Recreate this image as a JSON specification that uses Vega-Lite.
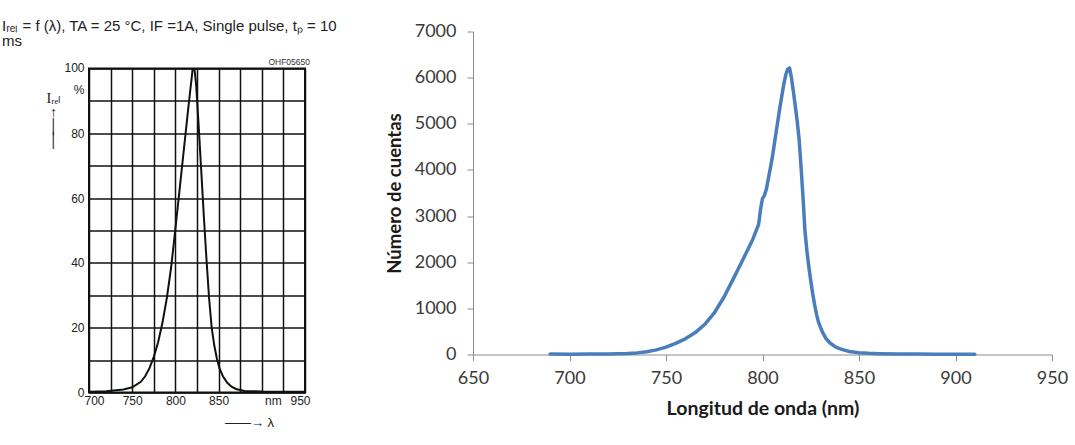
{
  "$schema": "https://vega.github.io/schema/vega-lite/v6.json",
  "background": "white",
  "padding": {"left": 2, "top": 18.5, "right": 0, "bottom": 0},
  "config": {
    "view": {"stroke": null},
    "font": "Liberation Sans",
    "concat": {"spacing": 47}
  },
  "datasets": {
    "caption": [
      {"lines": ["Iᵣₑₗ = f (λ), TA = 25 °C, IF =1A, Single pulse, tₚ = 10", "ms"]}
    ],
    "datasheet": [
      {"lambda": 700, "irel": 0.2},
      {"lambda": 720, "irel": 0.4},
      {"lambda": 740, "irel": 0.9},
      {"lambda": 750, "irel": 1.6},
      {"lambda": 760, "irel": 3.3},
      {"lambda": 765, "irel": 5},
      {"lambda": 770, "irel": 7.5},
      {"lambda": 775, "irel": 11},
      {"lambda": 780, "irel": 15.5},
      {"lambda": 785, "irel": 21.5},
      {"lambda": 790, "irel": 29},
      {"lambda": 795, "irel": 38.5},
      {"lambda": 800, "irel": 50.5},
      {"lambda": 805, "irel": 63},
      {"lambda": 810, "irel": 75.5},
      {"lambda": 815, "irel": 88},
      {"lambda": 819, "irel": 97.5},
      {"lambda": 820, "irel": 100},
      {"lambda": 822, "irel": 100},
      {"lambda": 824, "irel": 95},
      {"lambda": 827, "irel": 82},
      {"lambda": 830, "irel": 68},
      {"lambda": 833, "irel": 54},
      {"lambda": 836, "irel": 41},
      {"lambda": 839, "irel": 29},
      {"lambda": 842, "irel": 20},
      {"lambda": 845, "irel": 14.5},
      {"lambda": 848, "irel": 10.5},
      {"lambda": 851, "irel": 7.5},
      {"lambda": 855, "irel": 5},
      {"lambda": 860, "irel": 3},
      {"lambda": 865, "irel": 1.8},
      {"lambda": 870, "irel": 1.1},
      {"lambda": 880, "irel": 0.5},
      {"lambda": 900, "irel": 0.3},
      {"lambda": 950, "irel": 0.2}
    ],
    "measured": [
      {"lambda": 690, "counts": 10},
      {"lambda": 700, "counts": 8},
      {"lambda": 710, "counts": 9},
      {"lambda": 720, "counts": 12},
      {"lambda": 725, "counts": 15},
      {"lambda": 730, "counts": 22},
      {"lambda": 735, "counts": 35},
      {"lambda": 740, "counts": 60},
      {"lambda": 745, "counts": 100},
      {"lambda": 750, "counts": 160},
      {"lambda": 755, "counts": 240},
      {"lambda": 760, "counts": 340},
      {"lambda": 765, "counts": 470},
      {"lambda": 770, "counts": 650},
      {"lambda": 775, "counts": 900},
      {"lambda": 780, "counts": 1240},
      {"lambda": 785, "counts": 1650},
      {"lambda": 790, "counts": 2070},
      {"lambda": 795, "counts": 2500},
      {"lambda": 798, "counts": 2820},
      {"lambda": 799, "counts": 3150},
      {"lambda": 800, "counts": 3380},
      {"lambda": 801, "counts": 3450},
      {"lambda": 802, "counts": 3580},
      {"lambda": 803, "counts": 3800},
      {"lambda": 805, "counts": 4250},
      {"lambda": 807, "counts": 4800},
      {"lambda": 809, "counts": 5350},
      {"lambda": 811, "counts": 5850},
      {"lambda": 812, "counts": 6050},
      {"lambda": 813, "counts": 6180},
      {"lambda": 814, "counts": 6210},
      {"lambda": 815, "counts": 6000},
      {"lambda": 816, "counts": 5700},
      {"lambda": 817, "counts": 5380},
      {"lambda": 818, "counts": 5050},
      {"lambda": 819, "counts": 4650},
      {"lambda": 820, "counts": 4050},
      {"lambda": 821, "counts": 3400},
      {"lambda": 822, "counts": 2680},
      {"lambda": 823, "counts": 2250},
      {"lambda": 824, "counts": 1900},
      {"lambda": 825, "counts": 1600},
      {"lambda": 826, "counts": 1320},
      {"lambda": 827, "counts": 1080},
      {"lambda": 828, "counts": 870},
      {"lambda": 829, "counts": 700},
      {"lambda": 831, "counts": 490},
      {"lambda": 833, "counts": 340},
      {"lambda": 835, "counts": 250},
      {"lambda": 838, "counts": 160},
      {"lambda": 841, "counts": 110},
      {"lambda": 845, "counts": 65},
      {"lambda": 850, "counts": 38},
      {"lambda": 855, "counts": 25},
      {"lambda": 860, "counts": 18},
      {"lambda": 870, "counts": 12},
      {"lambda": 880, "counts": 9},
      {"lambda": 890, "counts": 7},
      {"lambda": 900, "counts": 6},
      {"lambda": 910, "counts": 5}
    ]
  },
  "hconcat": [
    {
      "spacing": 8,
      "vconcat": [
        {
          "width": 216,
          "height": 14,
          "data": {"name": "caption"},
          "mark": {"type": "text", "align": "left", "baseline": "middle", "dx": -195, "dy": -13, "fontSize": 15, "lineHeight": 15, "color": "#222", "font": "Liberation Sans"},
          "encoding": {"text": {"field": "lines", "type": "nominal"}}
        },
        {
          "width": 216,
          "height": 324,
          "title": {"text": "OHF05650", "anchor": "end", "fontSize": 8.5, "fontWeight": "normal", "offset": -5, "color": "#333", "font": "Liberation Sans"},
          "view": {"stroke": "#111", "strokeWidth": 2},
          "data": {"name": "datasheet"},
          "mark": {"type": "line", "color": "#111", "strokeWidth": 2, "clip": true},
          "encoding": {
            "x": {
              "field": "lambda", "type": "quantitative",
              "scale": {"domain": [700, 950], "nice": false, "zero": false},
              "axis": {
                "values": [700, 725, 750, 775, 800, 825, 850, 875, 900, 925, 950],
                "grid": true, "gridColor": "#111", "gridWidth": 1.5, "gridOpacity": 1,
                "domain": false, "ticks": false,
                "labelExpr": "datum.value == 900 ? 'nm' : (datum.value % 50 == 0 ? datum.label : '')",
                "labelFlush": true, "labelFlushOffset": 5,
                "labelOffset": {"condition": {"test": "datum.value == 900", "value": 11}, "value": 0},
                "labelPadding": 3, "labelFontSize": 12, "labelColor": "#222", "labelFont": "Liberation Sans",
                "title": "——→ λ", "titleX": 160, "titleY": 30, "titleAlign": "center", "titleBaseline": "middle",
                "titleFontSize": 13, "titleFontWeight": "normal", "titleColor": "#222", "titleFont": "Liberation Sans, DejaVu Sans"
              }
            },
            "y": {
              "field": "irel", "type": "quantitative",
              "scale": {"domain": [0, 100], "nice": false},
              "axis": {
                "values": [0, 10, 20, 30, 40, 50, 60, 70, 80, 90, 100],
                "grid": true, "gridColor": "#111", "gridWidth": 1.5, "gridOpacity": 1,
                "domain": false, "ticks": false, "labelFlush": false,
                "labelExpr": "datum.value == 100 ? ['100', '%'] : (datum.value % 20 == 0 ? datum.label : '')",
                "labelBaseline": {"condition": {"test": "datum.value == 100", "value": "top"}, "value": "middle"},
                "labelOffset": {"condition": {"test": "datum.value == 100", "value": -6}, "value": 0},
                "labelLineHeight": 22,
                "labelPadding": 5, "labelFontSize": 12, "labelColor": "#222", "labelFont": "Liberation Sans",
                "title": ["Iᵣₑₗ", "↑", "│", "│"],
                "titleAngle": 0, "titleX": -36, "titleY": 23, "titleAlign": "center", "titleBaseline": "top",
                "titleFont": "Liberation Serif, DejaVu Sans", "titleFontSize": 14, "titleFontWeight": "normal",
                "titleLineHeight": 14, "titleColor": "#111"
              }
            }
          }
        }
      ]
    },
    {
      "width": 579,
      "height": 323,
      "data": {"name": "measured"},
      "mark": {"type": "line", "color": "#4A7EBB", "strokeWidth": 3.5, "strokeJoin": "round", "strokeCap": "round"},
      "encoding": {
        "x": {
          "field": "lambda", "type": "quantitative",
          "scale": {"domain": [650, 950], "nice": false, "zero": false},
          "axis": {
            "values": [650, 700, 750, 800, 850, 900, 950], "format": "d",
            "grid": false, "domainColor": "#8c8c8c", "domainWidth": 1, "tickColor": "#8c8c8c", "tickSize": 6,
            "labelFont": "Lato", "labelFontSize": 18, "labelColor": "#3a3a3a", "labelPadding": 9, "labelFlush": false,
            "title": "Longitud de onda (nm)", "titleFont": "Lato", "titleFontSize": 19.5, "titleFontWeight": "bold",
            "titleColor": "#1a1a1a", "titlePadding": 12
          }
        },
        "y": {
          "field": "counts", "type": "quantitative",
          "scale": {"domain": [0, 7000], "nice": false},
          "axis": {
            "values": [0, 1000, 2000, 3000, 4000, 5000, 6000, 7000], "format": "d",
            "grid": false, "domainColor": "#8c8c8c", "domainWidth": 1, "tickColor": "#8c8c8c", "tickSize": 6,
            "labelFont": "Lato", "labelFontSize": 18, "labelColor": "#3a3a3a", "labelPadding": 11,
            "title": "Número de cuentas", "titleFont": "Lato", "titleFontSize": 18.5, "titleFontWeight": "bold",
            "titleColor": "#1a1a1a", "titlePadding": 10
          }
        }
      }
    }
  ]
}
